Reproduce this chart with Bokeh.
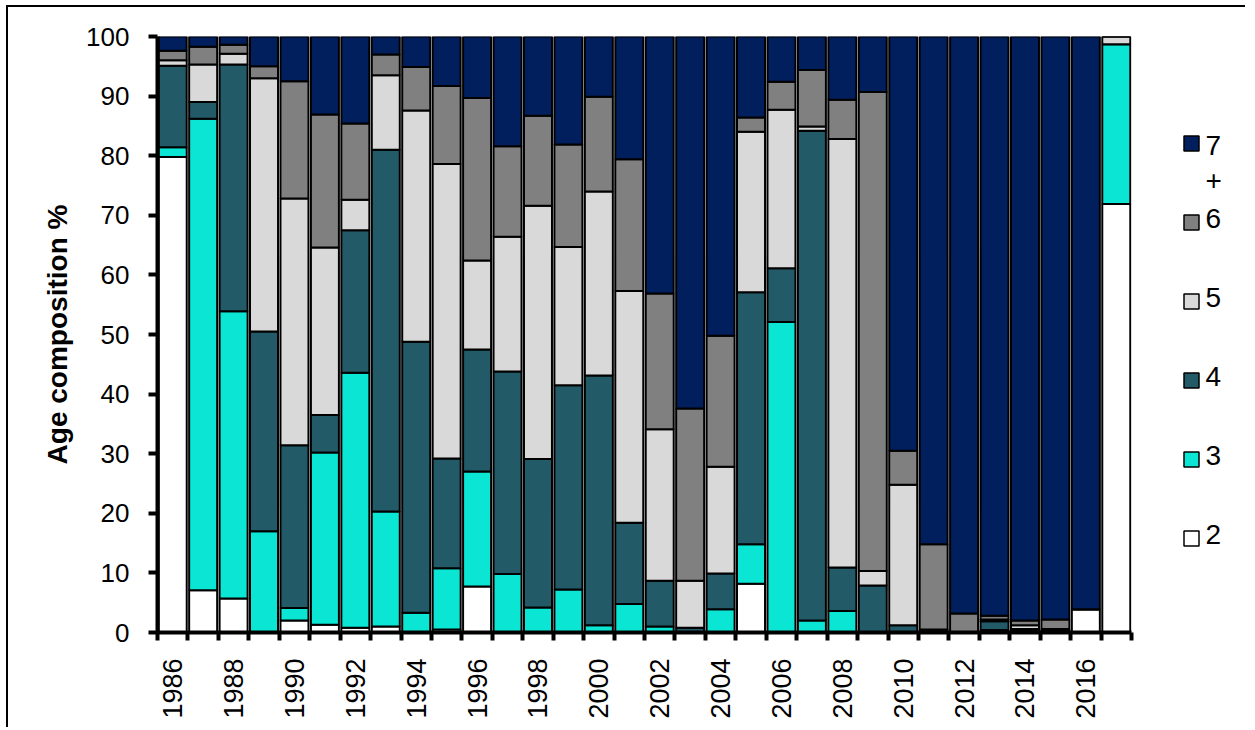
import math
from bokeh.plotting import figure
from bokeh.models import Range1d, FixedTicker, ColumnDataSource
from bokeh.layouts import row
from bokeh.embed import file_html
from bokeh.resources import INLINE
from bokeh.core.properties import value

years = list(range(1986, 2018))
ages = ["2", "3", "4", "5", "6", "7+"]
colors = ["#FFFFFF", "#0BE6D4", "#225A68", "#D9D9D9", "#808080", "#001F5C"]

age2 = [79.8, 7.1, 5.7, 0.0, 2.0, 1.3, 0.8, 1.0, 0.0, 0.5, 7.7, 0.0, 0.0, 0.0, 0.0, 0.0,
        0.0, 0.0, 0.0, 8.2, 0.0, 0.0, 0.0, 0.0, 0.0, 0.0, 0.0, 0.0, 0.4, 0.3, 3.9, 71.9]
age3 = [1.6, 79.1, 48.2, 17.0, 2.1, 28.9, 42.8, 19.3, 3.3, 10.3, 19.3, 9.8, 4.2, 7.2, 1.2, 4.8,
        1.0, 0.0, 3.9, 6.6, 52.1, 2.0, 3.6, 0.0, 0.0, 0.0, 0.0, 0.4, 0.0, 0.0, 0.0, 26.8]
age4 = [13.7, 2.8, 41.4, 33.5, 27.3, 6.3, 23.9, 60.7, 45.5, 18.4, 20.5, 34.0, 24.9, 34.3, 41.9, 13.6,
        7.7, 0.8, 6.0, 42.3, 9.0, 82.2, 7.3, 7.9, 1.2, 0.5, 0.0, 1.5, 0.2, 0.0, 0.0, 0.0]
age5 = [0.9, 6.3, 1.8, 42.5, 41.4, 28.1, 5.1, 12.5, 38.8, 49.4, 14.9, 22.6, 42.5, 23.2, 30.9, 38.9,
        25.4, 7.9, 17.9, 26.9, 26.6, 0.7, 71.9, 2.4, 23.6, 0.0, 0.0, 0.3, 0.6, 0.3, 0.0, 1.3]
age6 = [1.6, 3.0, 1.5, 2.0, 19.7, 22.3, 12.8, 3.5, 7.3, 13.1, 27.3, 15.2, 15.1, 17.2, 15.9, 22.1,
        22.8, 28.9, 22.0, 2.4, 4.7, 9.5, 6.6, 80.4, 5.7, 14.3, 3.2, 0.6, 0.8, 1.6, 0.0, 0.0]
age7p = [2.4, 1.7, 1.4, 5.0, 7.5, 13.1, 14.6, 3.0, 5.1, 8.3, 10.3, 18.4, 13.3, 18.1, 10.1, 20.6,
         43.1, 62.4, 50.2, 13.6, 7.6, 5.6, 10.6, 9.3, 69.5, 85.2, 96.8, 97.2, 98.0, 97.8, 96.1, 0.0]

y_ticks = list(range(0, 101, 10))
x_label_years = years[::2]

FONT = "Liberation Sans"
cols = ["a2", "a3", "a4", "a5", "a6", "a7p"]
src = ColumnDataSource(dict(year=years, a2=age2, a3=age3, a4=age4, a5=age5, a6=age6, a7p=age7p))

H = 720
TOP, FRAME_H = 29, 596
BOTTOM = H - TOP - FRAME_H

p = figure(width=1133, height=H,
           x_range=Range1d(years[0] - 0.5, years[-1] + 0.5), y_range=Range1d(0, 100),
           output_backend="svg", toolbar_location=None, title=None,
           min_border_left=149, min_border_right=10, min_border_top=TOP, min_border_bottom=BOTTOM)
p.vbar_stack(cols, x="year", width=0.92, source=src, fill_color=colors,
             line_color="black", line_width=2)

p.grid.visible = False
p.outline_line_color = None
p.background_fill_color = "white"

xa = p.xaxis[0]
xa.ticker = FixedTicker(ticks=x_label_years,
                        minor_ticks=[y - 0.5 for y in years] + [years[-1] + 0.5])
xa.major_tick_out = 0
xa.major_tick_in = 0
xa.minor_tick_out = 8
xa.minor_tick_in = 0
xa.minor_tick_line_width = 4
xa.minor_tick_line_color = "black"
xa.axis_line_width = 4
xa.axis_line_color = "black"
xa.major_label_orientation = math.pi / 2
xa.major_label_standoff = 18
xa.major_label_text_font = FONT
xa.major_label_text_font_size = "27px"
xa.major_label_text_color = "black"

ya = p.yaxis[0]
ya.ticker = FixedTicker(ticks=y_ticks)
ya.major_tick_out = 9
ya.major_tick_in = 0
ya.major_tick_line_width = 4
ya.minor_tick_out = 0
ya.minor_tick_in = 0
ya.axis_line_width = 4
ya.major_label_standoff = 19
ya.major_label_text_font = FONT
ya.major_label_text_font_size = "26px"
ya.major_label_text_color = "black"
ya.axis_label = "Age composition %"
ya.axis_label_text_font = FONT
ya.axis_label_text_font_style = "bold"
ya.axis_label_text_font_size = "28px"
ya.axis_label_text_color = "black"
ya.axis_label_standoff = 10

# legend panel: frame aligned with the main frame, y in pixels from frame top
LW = 104
leg = figure(width=LW, height=H, x_range=Range1d(0, LW), y_range=Range1d(FRAME_H, 0),
             output_backend="svg", toolbar_location=None, title=None,
             x_axis_type=None, y_axis_type=None,
             min_border_left=0, min_border_right=0, min_border_top=TOP, min_border_bottom=BOTTOM)
leg.grid.visible = False
leg.outline_line_color = None

order = list(range(len(ages)))[::-1]
leg_y = [107 + i * 79 for i in range(len(ages))]
leg_src = ColumnDataSource(dict(
    y=leg_y,
    ty=[v - 14 for v in leg_y],
    label=[ages[k].replace("+", "\n+") for k in order],
    color=[colors[k] for k in order],
))
leg.rect(x=50, y="y", width=15, height=15, fill_color="color", line_color="black",
         line_width=1.5, source=leg_src)
leg.text(x=64, y="ty", text="label", source=leg_src, text_font=value(FONT),
         text_font_size="28px", text_baseline="top", text_align="left",
         text_line_height=1.15, text_color="black")

layout = row(p, leg, styles={"margin-left": "6px", "margin-top": "5px",
                             "border-top": "2px solid black", "border-left": "2px solid black"})

open("out.html", "w").write(file_html(layout, INLINE))
